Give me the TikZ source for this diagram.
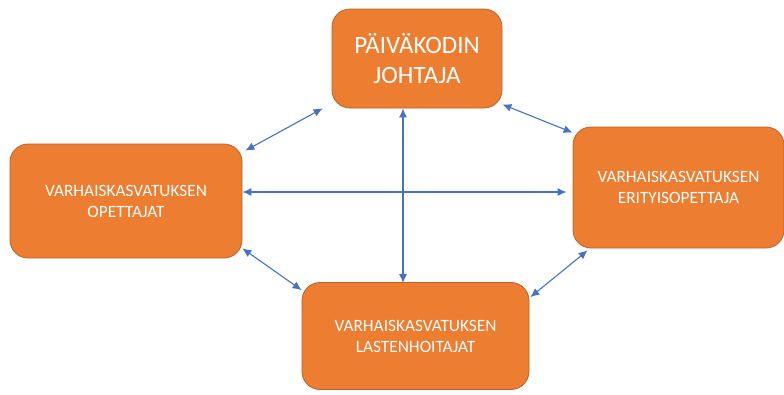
\documentclass[tikz,border=0pt]{standalone}
\usepackage{fontspec}
\setmainfont{Carlito}
\usetikzlibrary{arrows.meta,calc}
\definecolor{boxfill}{HTML}{ED7D31}
\definecolor{boxedge}{HTML}{B8622A}
\definecolor{arrowblue}{HTML}{4472C4}
\begin{document}
\begin{tikzpicture}[x=1pt,y=-1pt,
  rolebox/.style={draw=boxedge,line width=0.8pt,fill=boxfill,rounded corners=18pt,
    text=white,align=center,inner sep=0pt,font=\fontsize{17.3}{21}\selectfont},
  link/.style={draw=arrowblue,line width=1.1pt,{Latex[length=9pt,width=8pt]}-{Latex[length=9pt,width=8pt]}}]
\useasboundingbox (0,0) rectangle (784,394);
\node[rolebox,minimum width=170pt,minimum height=99pt,font=\fontsize{25}{30}\selectfont] (T) at (417,58.5) {PÄIVÄKODIN\\JOHTAJA};
\node[rolebox,minimum width=232pt,minimum height=114pt] (L) at (126,201) {VARHAISKASVATUKSEN\\OPETTAJAT};
\node[rolebox,minimum width=211pt,minimum height=121pt] (R) at (678.5,187.5) {VARHAISKASVATUKSEN\\ERITYISOPETTAJA};
\node[rolebox,minimum width=227pt,minimum height=107pt] (B) at (415.5,336) {VARHAISKASVATUKSEN\\LASTENHOITAJAT};
\draw[link] ($(L.north east)+(3,7)$) -- ($(T.south west)+(-9,0)$);
\draw[link] ($(T.south east)+(0,-4)$) -- ($(R.north west)+(0,6)$);
\draw[link] ($(L.east)+(0,-9)$) -- ($(R.west)+(-6,4.5)$);
\draw[link] ($(T.south)+(-14,0)$) -- ($(B.north)+(-12.5,1)$);
\draw[link] ($(L.south east)+(0,-10)$) -- ($(B.north west)+(0,8)$);
\draw[link] ($(B.north east)+(1,15)$) -- ($(R.south west)+(15,2)$);
\end{tikzpicture}
\end{document}
